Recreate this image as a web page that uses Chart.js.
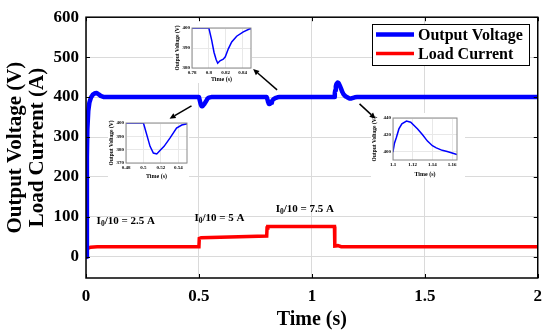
<!DOCTYPE html>
<html>
<head>
<meta charset="utf-8">
<script src="https://cdn.jsdelivr.net/npm/chart.js@4.4.1/dist/chart.umd.min.js"></script>
<style>
  body { margin: 0; background: #fff; }
  #wrap { position: relative; width: 550px; height: 334px; }
  canvas { position: absolute; }
</style>
</head>
<body>
<div id="wrap">
  <canvas id="graph" width="550" height="334" style="left:0;top:0"></canvas>
  <canvas id="inset1"></canvas>
  <canvas id="inset2"></canvas>
  <canvas id="inset3"></canvas>
</div>
<script>
// time axis (s) and values
const voltTime = [0, 0.004, 0.006, 0.01, 0.015, 0.022, 0.03, 0.04, 0.048, 0.056, 0.065, 0.08, 0.1,
  0.5, 0.5038, 0.5076, 0.5114, 0.5153, 0.519, 0.5237, 0.5306, 0.538, 0.544, 0.549, 0.555,
  0.8, 0.8034, 0.8061, 0.8085, 0.8105, 0.8132, 0.8171, 0.8195, 0.8231, 0.8271, 0.833, 0.8409, 0.848, 0.856,
  1.1, 1.1015, 1.1035, 1.106, 1.109, 1.1137, 1.118, 1.125, 1.13, 1.135, 1.14, 1.144, 1.15, 1.155, 1.16, 1.165, 1.175, 1.19, 1.2, 2]
const voltage = [0, 250, 320, 365, 386, 399, 406, 409.5, 410, 407, 403, 400, 400,
  400, 391.3, 382.5, 377.5, 376.8, 379.3, 382.5, 388.8, 396.2, 398.5, 399.2, 400,
  400, 393.8, 387.9, 384.4, 382.4, 383.6, 384.4, 385.6, 389.6, 393, 395.9, 398.1, 399.5, 400,
  400, 410, 417, 427, 433, 436.3, 435, 427, 420, 412.5, 407, 404.5, 401.5, 400, 398.4, 396.5, 396.5, 399.5, 400, 400]

const currTime = [0, 0.003, 0.008, 0.02, 0.05, 0.5, 0.5015, 0.51, 0.8, 0.8015, 0.805, 1.1, 1.1015, 1.115, 1.13, 2]
const current = [0, 15, 21, 24, 25, 25.5, 46, 48, 52, 72, 76, 76, 27, 28, 25.5, 25]

const seriesNames = ['Output Voltage', 'Load Current']
const xTicks = [0, 0.5, 1, 1.5, 2]
const yTicks = [0, 100, 200, 300, 400, 500, 600]
const loadLabels = ['2.5 A', '5 A', '7.5 A']

// zoomed views
const inset1X = [0.78, 0.85], inset1Y = [380, 400]
const inset1XTicks = [0.78, 0.8, 0.82, 0.84], inset1YTicks = [380, 390, 400]
const inset2X = [0.48, 0.55], inset2Y = [370, 400]
const inset2XTicks = [0.48, 0.5, 0.52, 0.54], inset2YTicks = [370, 380, 390, 400]
const inset3X = [1.1, 1.165], inset3Y = [390, 440]
const inset3XTicks = [1.1, 1.12, 1.14, 1.16], inset3YTicks = [400, 420, 440]

// annotation anchors in data units (time, value)
const notes = [[0.047, 89], [0.48, 98], [0.84, 118.5]]
const arrows = [
  { from: [0.467, 378], to: [0.370, 346] },
  { from: [0.846, 418], to: [0.740, 470] },
  { from: [1.211, 383], to: [1.282, 346] }
]

const serif = '"Liberation Serif", "Times New Roman", serif'
Chart.defaults.font.family = serif
Chart.defaults.color = '#000'

const pts = (xs, ys) => xs.map((x, i) => ({ x: x, y: ys[i] }))
const setTicks = list => scale => { scale.ticks = list.map(v => ({ value: v })) }

// canvas box [left, top, width, height] and plot area [yAxisWidth, padTop, padRight, xAxisHeight]
const insetSpecs = [
  { id: 'inset1', box: [173, 19, 79, 64], area: [19, 9, 1, 15], titlePad: 2, x: inset1X, y: inset1Y, xt: inset1XTicks, yt: inset1YTicks },
  { id: 'inset2', box: [108, 118, 81, 62], area: [18, 4, 2, 17], titlePad: 0.5, x: inset2X, y: inset2Y, xt: inset2XTicks, yt: inset2YTicks },
  { id: 'inset3', box: [371, 113, 94, 65], area: [22, 4, 8, 18], titlePad: 0.7, x: inset3X, y: inset3Y, xt: inset3XTicks, yt: inset3YTicks }
]

const framePlugin = {
  id: 'frame',
  afterDraw(chart, args, opts) {
    const { ctx, chartArea: a, scales } = chart
    ctx.save()
    ctx.strokeStyle = opts.color
    ctx.lineWidth = opts.width
    ctx.strokeRect(a.left, a.top, a.right - a.left, a.bottom - a.top)
    if (opts.tick) {
      const L = opts.tick
      ctx.lineWidth = 1
      ctx.beginPath()
      scales.x.ticks.forEach(t => {
        const px = Math.round(scales.x.getPixelForValue(t.value)) + 0.5
        ctx.moveTo(px, a.bottom); ctx.lineTo(px, a.bottom - L)
        ctx.moveTo(px, a.top); ctx.lineTo(px, a.top + L)
      })
      scales.y.ticks.forEach(t => {
        const py = Math.round(scales.y.getPixelForValue(t.value)) + 0.5
        ctx.moveTo(a.left, py); ctx.lineTo(a.left + L, py)
        ctx.moveTo(a.right, py); ctx.lineTo(a.right - L, py)
      })
      ctx.stroke()
    }
    ctx.restore()
  }
}

// white patches behind the zoomed views so the main grid does not show through
const insetBackPlugin = {
  id: 'insetBack',
  beforeDatasetsDraw(chart) {
    const ctx = chart.ctx
    ctx.save()
    ctx.fillStyle = '#fff'
    insetSpecs.forEach(s => ctx.fillRect(s.box[0], s.box[1], s.box[2], s.box[3]))
    ctx.restore()
  }
}

const notesPlugin = {
  id: 'notes',
  afterDatasetsDraw(chart) {
    const { ctx, scales } = chart
    ctx.save()
    ctx.fillStyle = '#000'
    ctx.textBaseline = 'middle'
    notes.forEach((n, i) => {
      let x = scales.x.getPixelForValue(n[0])
      const y = scales.y.getPixelForValue(n[1])
      ctx.font = 'bold 11px ' + serif
      ctx.fillText('I', x, y)
      x += ctx.measureText('I').width
      ctx.font = 'bold 7.5px ' + serif
      ctx.fillText('0', x, y + 3)
      x += ctx.measureText('0').width
      ctx.font = 'bold 11px ' + serif
      ctx.fillText('/10 = ' + loadLabels[i], x, y)
    })
    // arrows
    ctx.strokeStyle = '#000'
    ctx.lineWidth = 1.5
    arrows.forEach(a => {
      const x0 = scales.x.getPixelForValue(a.from[0]), y0 = scales.y.getPixelForValue(a.from[1])
      const x1 = scales.x.getPixelForValue(a.to[0]), y1 = scales.y.getPixelForValue(a.to[1])
      const ang = Math.atan2(y1 - y0, x1 - x0)
      const hl = 6, hw = 2.8
      const bx = x1 - hl * Math.cos(ang), by = y1 - hl * Math.sin(ang)
      ctx.beginPath()
      ctx.moveTo(x0, y0); ctx.lineTo(bx, by)
      ctx.stroke()
      ctx.beginPath()
      ctx.moveTo(x1, y1)
      ctx.lineTo(bx + hw * Math.sin(ang), by - hw * Math.cos(ang))
      ctx.lineTo(bx - hw * Math.sin(ang), by + hw * Math.cos(ang))
      ctx.closePath()
      ctx.fill()
    })
    ctx.restore()
  }
}

const legendPlugin = {
  id: 'boxLegend',
  afterDraw(chart) {
    const ctx = chart.ctx
    ctx.save()
    ctx.fillStyle = '#fff'
    ctx.fillRect(372, 24, 158, 42)
    ctx.strokeStyle = '#000'
    ctx.lineWidth = 1
    ctx.strokeRect(372.5, 24.5, 157, 41)
    chart.data.datasets.forEach((ds, i) => {
      const y = 34.5 + i * 19
      ctx.strokeStyle = ds.borderColor
      ctx.lineWidth = ds.borderWidth
      ctx.beginPath()
      ctx.moveTo(376, y); ctx.lineTo(414, y)
      ctx.stroke()
      ctx.fillStyle = '#000'
      ctx.font = 'bold 16px ' + serif
      ctx.textBaseline = 'middle'
      ctx.fillText(ds.label, 418, y + 1.5)
    })
    ctx.restore()
  }
}

new Chart(document.getElementById('graph'), {
  type: 'line',
  data: {
    datasets: [
      { label: seriesNames[0], data: pts(voltTime, voltage), borderColor: '#0000ff', borderWidth: 4.5, pointRadius: 0, tension: 0, borderJoinStyle: 'round' },
      { label: seriesNames[1], data: pts(currTime, current), borderColor: '#ff0000', borderWidth: 3.5, pointRadius: 0, tension: 0 }
    ]
  },
  options: {
    responsive: false,
    animation: false,
    devicePixelRatio: 1,
    layout: { padding: { left: 0, top: 14, right: 10, bottom: 0 } },
    plugins: {
      legend: { display: false },
      tooltip: { enabled: false },
      frame: { color: '#000', width: 1.5, tick: 4 }
    },
    scales: {
      x: {
        type: 'linear', min: 0, max: 2,
        afterBuildTicks: setTicks(xTicks),
        afterFit: s => { s.height = 56 },
        grid: { color: '#dadada', drawTicks: false },
        border: { display: false },
        ticks: { padding: 8, maxRotation: 0, autoSkip: false, font: { size: 17, weight: 'bold' }, callback: v => String(v) },
        title: { display: true, text: 'Time (s)', font: { size: 20, weight: 'bold' }, padding: { top: 0, bottom: 2 } }
      },
      y: {
        type: 'linear', min: -53, max: 600,
        afterBuildTicks: setTicks(yTicks),
        afterFit: s => { s.width = 86 },
        grid: { color: '#dadada', drawTicks: false },
        border: { display: false },
        ticks: { padding: 7, autoSkip: false, font: { size: 17, weight: 'bold' }, callback: v => String(v) },
        title: { display: true, text: ['Output Voltage (V)', 'Load Current (A)'], font: { size: 21, weight: 'bold', lineHeight: 1.05 }, padding: { top: 5, bottom: 0 } }
      }
    }
  },
  plugins: [insetBackPlugin, notesPlugin, framePlugin, legendPlugin]
})

insetSpecs.forEach(s => {
  const cv = document.getElementById(s.id)
  cv.width = s.box[2]
  cv.height = s.box[3]
  cv.style.left = s.box[0] + 'px'
  cv.style.top = s.box[1] + 'px'
  new Chart(cv, {
    type: 'line',
    data: {
      datasets: [{ label: seriesNames[0], data: pts(voltTime, voltage), borderColor: '#0000ff', borderWidth: 1.5, pointRadius: 0, tension: 0 }]
    },
    options: {
      responsive: false,
      animation: false,
      devicePixelRatio: 1,
      layout: { padding: { left: 0, top: s.area[1], right: s.area[2], bottom: 0 } },
      plugins: {
        legend: { display: false },
        tooltip: { enabled: false },
        frame: { color: '#8a8a8a', width: 1, tick: 0 }
      },
      scales: {
        x: {
          type: 'linear', min: s.x[0], max: s.x[1],
          afterBuildTicks: setTicks(s.xt),
          afterFit: sc => { sc.height = s.area[3] },
          grid: { color: '#e8e8e8', drawTicks: false },
          border: { display: false },
          ticks: { padding: 2, maxRotation: 0, autoSkip: false, font: { size: 5, weight: 'bold' }, callback: v => String(v) },
          title: { display: true, text: 'Time (s)', font: { size: 6, weight: 'bold', lineHeight: 1 }, padding: { top: 0, bottom: 0.5 } }
        },
        y: {
          type: 'linear', min: s.y[0], max: s.y[1],
          afterBuildTicks: setTicks(s.yt),
          afterFit: sc => { sc.width = s.area[0] },
          grid: { color: '#e8e8e8', drawTicks: false },
          border: { display: false },
          ticks: { padding: 2, autoSkip: false, font: { size: 5, weight: 'bold' }, callback: v => String(v) },
          title: { display: true, text: 'Output Voltage (V)', font: { size: 5.5, weight: 'bold', lineHeight: 1 }, padding: { top: s.titlePad, bottom: 0 } }
        }
      }
    },
    plugins: [framePlugin]
  })
})
</script>
</body>
</html>
